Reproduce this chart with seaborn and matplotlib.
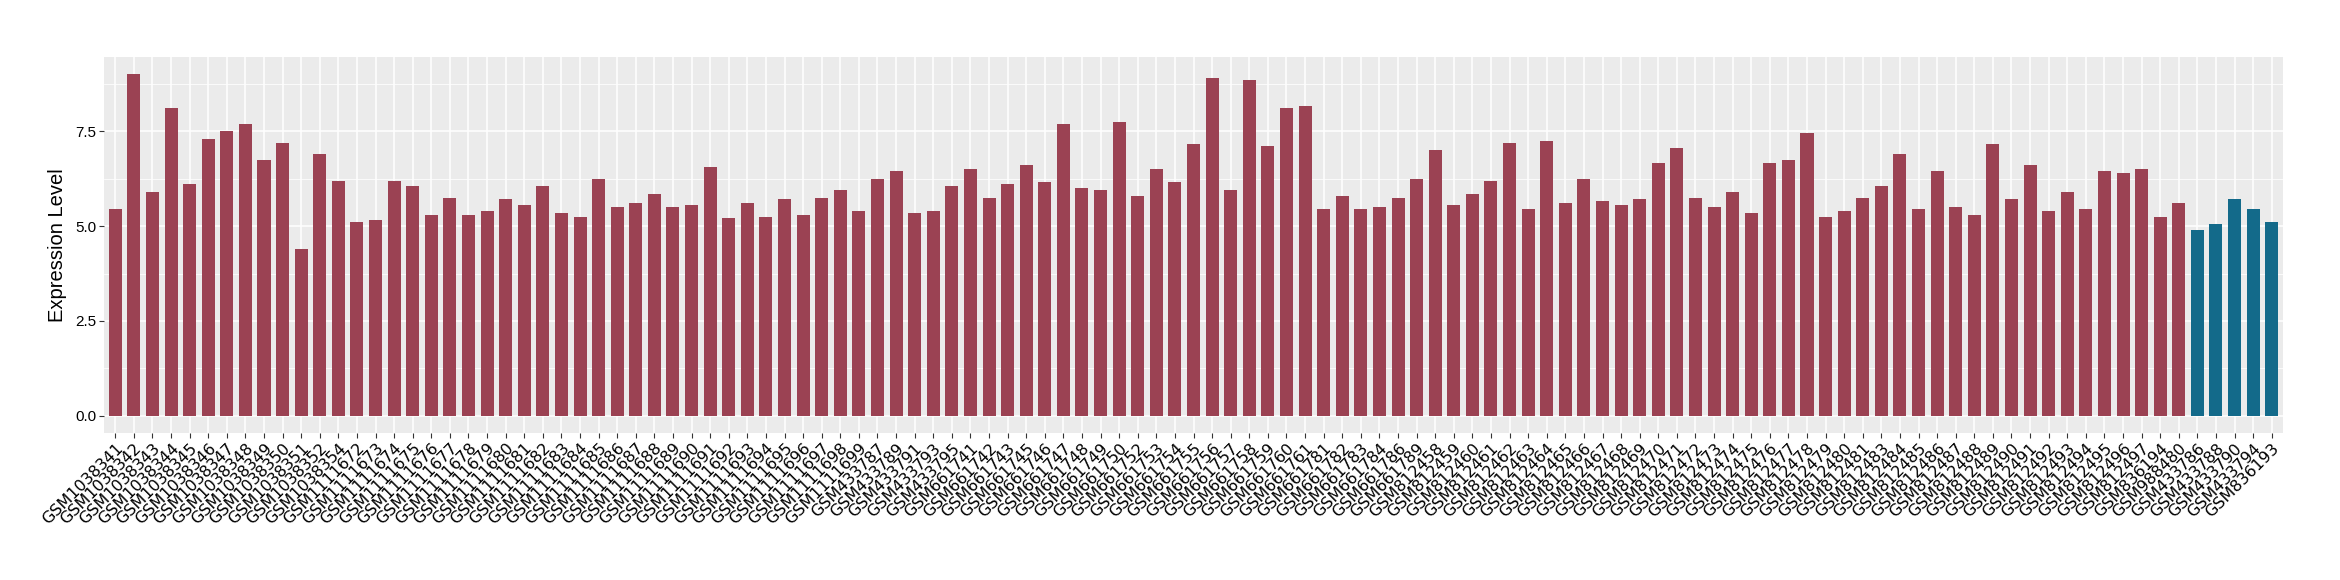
import matplotlib
matplotlib.use("Agg")
import matplotlib.pyplot as plt
import seaborn as sns
import pandas as pd
from matplotlib.ticker import MultipleLocator

# Sample ids (x axis) and expression values
samples = [
    "GSM1038341", "GSM1038342", "GSM1038343", "GSM1038344", "GSM1038345", "GSM1038346",
    "GSM1038347", "GSM1038348", "GSM1038349", "GSM1038350", "GSM1038351", "GSM1038352",
    "GSM1038354", "GSM1111672", "GSM1111673", "GSM1111674", "GSM1111675", "GSM1111676",
    "GSM1111677", "GSM1111678", "GSM1111679", "GSM1111680", "GSM1111681", "GSM1111682",
    "GSM1111683", "GSM1111684", "GSM1111685", "GSM1111686", "GSM1111687", "GSM1111688",
    "GSM1111689", "GSM1111690", "GSM1111691", "GSM1111692", "GSM1111693", "GSM1111694",
    "GSM1111695", "GSM1111696", "GSM1111697", "GSM1111698", "GSM1111699", "GSM433787",
    "GSM433789", "GSM433791", "GSM433793", "GSM433795", "GSM661741", "GSM661742",
    "GSM661743", "GSM661745", "GSM661746", "GSM661747", "GSM661748", "GSM661749",
    "GSM661750", "GSM661752", "GSM661753", "GSM661754", "GSM661755", "GSM661756",
    "GSM661757", "GSM661758", "GSM661759", "GSM661760", "GSM661761", "GSM661781",
    "GSM661782", "GSM661783", "GSM661784", "GSM661786", "GSM661789", "GSM812458",
    "GSM812459", "GSM812460", "GSM812461", "GSM812462", "GSM812463", "GSM812464",
    "GSM812465", "GSM812466", "GSM812467", "GSM812468", "GSM812469", "GSM812470",
    "GSM812471", "GSM812472", "GSM812473", "GSM812474", "GSM812475", "GSM812476",
    "GSM812477", "GSM812478", "GSM812479", "GSM812480", "GSM812481", "GSM812483",
    "GSM812484", "GSM812485", "GSM812486", "GSM812487", "GSM812488", "GSM812489",
    "GSM812490", "GSM812491", "GSM812492", "GSM812493", "GSM812494", "GSM812495",
    "GSM812496", "GSM812497", "GSM836194", "GSM988480",
    "GSM433786", "GSM433788", "GSM433790", "GSM433794", "GSM836193",
]

values = [
    5.45, 9.0, 5.9, 8.1, 6.1, 7.3, 7.5, 7.7, 6.75, 7.2, 4.4, 6.9,
    6.2, 5.1, 5.15, 6.2, 6.05, 5.3, 5.75, 5.3, 5.4, 5.7, 5.55, 6.05,
    5.35, 5.25, 6.25, 5.5, 5.6, 5.85, 5.5, 5.55, 6.55, 5.2, 5.6, 5.25,
    5.7, 5.3, 5.75, 5.95, 5.4, 6.25, 6.45, 5.35, 5.4, 6.05, 6.5, 5.75,
    6.1, 6.6, 6.15, 7.7, 6.0, 5.95, 7.75, 5.8, 6.5, 6.15, 7.15, 8.9,
    5.95, 8.85, 7.1, 8.1, 8.15, 5.45, 5.8, 5.45, 5.5, 5.75, 6.25, 7.0,
    5.55, 5.85, 6.2, 7.2, 5.45, 7.25, 5.6, 6.25, 5.65, 5.55, 5.7, 6.65,
    7.05, 5.75, 5.5, 5.9, 5.35, 6.65, 6.75, 7.45, 5.25, 5.4, 5.75, 6.05,
    6.9, 5.45, 6.45, 5.5, 5.3, 7.15, 5.7, 6.6, 5.4, 5.9, 5.45, 6.45,
    6.4, 6.5, 5.25, 5.6,
    4.9, 5.05, 5.7, 5.45, 5.1,
]

groups = ["case"] * 112 + ["control"] * 5
palette = {"case": "#9B4253", "control": "#136A8A"}

df = pd.DataFrame({"sample": samples, "value": values, "group": groups})

plt.rcParams["font.family"] = ["Liberation Sans", "DejaVu Sans"]

fig = plt.figure(figsize=(23.4, 5.8), dpi=100)
ax = fig.add_axes([0.0445, 0.2535, 0.9311, 0.648])

sns.barplot(data=df, x="sample", y="value", hue="group", palette=palette,
            dodge=False, width=0.7, legend=False, ax=ax, saturation=1)

# ggplot-like grey panel
ax.set_facecolor("#EBEBEB")
for s in ax.spines.values():
    s.set_visible(False)
ax.set_axisbelow(True)
ax.yaxis.set_major_locator(MultipleLocator(2.5))
ax.yaxis.set_minor_locator(MultipleLocator(1.25))
ax.grid(which="major", color="white", linewidth=1.1)
ax.grid(which="minor", axis="y", color="white", linewidth=0.55)
ax.tick_params(which="minor", length=0)
ax.tick_params(which="major", length=3.5, width=0.8, color="#333333",
               labelcolor="#000000", labelsize=11, pad=2)

ax.set_xlim(-0.6, len(samples) - 0.4)
ax.set_ylim(-0.45, 9.45)
ax.set_yticklabels([f"{t:.1f}" for t in ax.get_yticks()])
plt.setp(ax.get_xticklabels(), rotation=45, ha="right", rotation_mode="anchor",
         fontsize=11.5, family="DejaVu Sans")

ax.set_xlabel("")
ax.set_ylabel("Expression Level", fontsize=14.5, labelpad=6)

fig.savefig("out.png", dpi=100)
